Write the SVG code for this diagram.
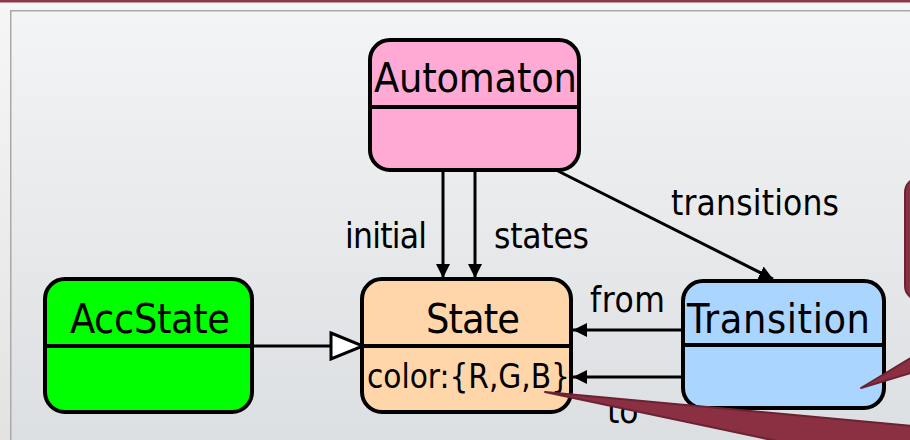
<svg xmlns="http://www.w3.org/2000/svg" width="910" height="440" viewBox="0 0 910 440">
  <defs>
    <linearGradient id="page" x1="0" y1="0" x2="0" y2="1">
      <stop offset="0" stop-color="#f6f6f6"/>
      <stop offset="1" stop-color="#e3e3e3"/>
    </linearGradient>
    <linearGradient id="panel" x1="0" y1="0" x2="0" y2="1">
      <stop offset="0" stop-color="#f3f4f5"/>
      <stop offset="1" stop-color="#dbdee1"/>
    </linearGradient>
    <marker id="arrow" viewBox="0 0 14 14" refX="14" refY="7" markerWidth="14" markerHeight="14" markerUnits="userSpaceOnUse" orient="auto">
      <path d="M0,0 L14,7 L0,14 z" fill="#000"/>
    </marker>
    <marker id="gen" viewBox="-2 -2 36 30" refX="32" refY="13" markerWidth="36" markerHeight="30" markerUnits="userSpaceOnUse" orient="auto">
      <path d="M0,0 L32,13 L0,26 z" fill="#fff" stroke="#000" stroke-width="3" stroke-linejoin="miter"/>
    </marker>
  </defs>
  <style>
    .box { stroke: #000; stroke-width: 4; }
    .div { stroke: #000; stroke-width: 4; }
    .name { font-family: 'DejaVu Sans Condensed', 'DejaVu Sans', sans-serif; font-stretch: condensed; font-size: 41px; fill: #000; text-anchor: middle; }
    .attr { font-family: 'DejaVu Sans Condensed', 'DejaVu Sans', sans-serif; font-stretch: condensed; font-size: 33px; fill: #000; }
    .lbl { font-family: 'DejaVu Sans Condensed', 'DejaVu Sans', sans-serif; font-stretch: condensed; font-size: 35px; fill: #000; }
    .edge { stroke: #000; stroke-width: 3; fill: none; }
    .callout { fill: #8a3042; stroke: #6b2232; stroke-width: 2; stroke-linejoin: round; }
  </style>

  <rect x="0" y="0" width="910" height="440" fill="url(#page)"/>
  <rect x="0" y="0" width="910" height="2.5" fill="#8b3a4a"/>
  <rect x="10.75" y="10.75" width="920" height="450" fill="url(#panel)" stroke="#a9a9a9" stroke-width="1.5"/>

  <g id="connectors">
    <path class="edge" d="M443,170 L443,278" marker-end="url(#arrow)"/>
    <path class="edge" d="M475,170 L475,278" marker-end="url(#arrow)"/>
    <path class="edge" d="M556,170 L773,279" marker-end="url(#arrow)"/>
    <path class="edge" d="M682,330 L573,330" marker-end="url(#arrow)"/>
    <path class="edge" d="M682,377 L573,377" marker-end="url(#arrow)"/>
    <path class="edge" d="M252,346 L363,346" marker-end="url(#gen)"/>
    <text class="lbl" x="345" y="248" textLength="82">initial</text>
    <text class="lbl" x="494" y="248" textLength="95">states</text>
    <text class="lbl" x="671" y="215" textLength="168">transitions</text>
    <text class="lbl" x="590" y="312" textLength="75">from</text>
    <text class="lbl" x="607" y="423">to</text>
  </g>

  <g id="Automaton">
    <rect class="box" x="370" y="40" width="209" height="130" rx="20" fill="#ffaad5"/>
    <line class="div" x1="370" y1="107" x2="579" y2="107"/>
    <text class="name" x="475.5" y="92" textLength="203">Automaton</text>
  </g>

  <g id="AccState">
    <rect class="box" x="45" y="279" width="207" height="133" rx="20" fill="#00ff00"/>
    <line class="div" x1="45" y1="346" x2="252" y2="346"/>
    <text class="name" x="150" y="333" textLength="160">AccState</text>
  </g>

  <g id="State">
    <rect class="box" x="362" y="279" width="209" height="133" rx="20" fill="#ffd5aa"/>
    <line class="div" x1="362" y1="346" x2="571" y2="346"/>
    <text class="name" x="473" y="333" textLength="94">State</text>
    <text class="attr" x="367" y="388" textLength="203">color:{R,G,B}</text>
  </g>

  <g id="Transition">
    <rect class="box" x="683" y="281" width="201" height="127" rx="20" fill="#aad5ff"/>
    <line class="div" x1="683" y1="345" x2="884" y2="345"/>
    <text class="name" x="778.5" y="333" textLength="183">Transition</text>
  </g>

  <g id="callouts">
    <rect class="callout" x="905" y="178" width="60" height="122" rx="14"/>
    <polygon class="callout" points="861,388 914,356 914,372"/>
    <polygon class="callout" points="545,392 914,426 914,470"/>
  </g>
</svg>
